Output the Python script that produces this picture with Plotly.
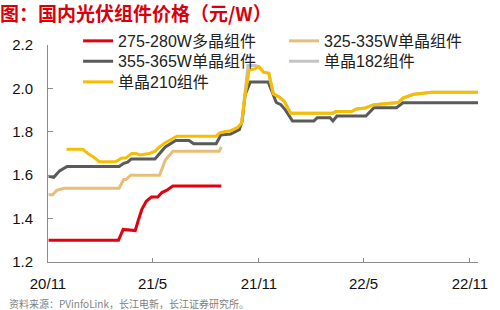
import plotly.graph_objects as go

# ---------------- data ----------------
red_dates = ["2020-11-02", "2021-03-03", "2021-03-11", "2021-04-01", "2021-04-06", "2021-04-12",
             "2021-04-20", "2021-04-29", "2021-05-10", "2021-05-17", "2021-05-25", "2021-06-05",
             "2021-08-28"]
red_vals = [1.30, 1.30, 1.35, 1.345, 1.39, 1.44, 1.48, 1.50, 1.50, 1.52, 1.53, 1.55, 1.55]

tan_dates = ["2020-11-02", "2020-11-09", "2020-11-16", "2020-11-29", "2021-03-04", "2021-03-12",
             "2021-03-16", "2021-03-24", "2021-05-13", "2021-05-23", "2021-06-05", "2021-08-24",
             "2021-08-28"]
tan_vals = [1.51, 1.51, 1.53, 1.54, 1.54, 1.58, 1.58, 1.60, 1.60, 1.67, 1.71, 1.71, 1.73]

g355_dates = ["2020-11-02", "2020-11-11", "2020-11-21", "2020-12-04", "2021-03-04", "2021-03-12",
              "2021-03-19", "2021-03-25", "2021-05-05", "2021-05-13", "2021-05-23", "2021-06-10",
              "2021-07-03", "2021-07-11", "2021-08-19", "2021-08-27", "2021-09-13", "2021-09-28",
              "2021-10-03", "2021-10-08", "2021-10-17", "2021-11-17", "2021-11-23", "2021-12-01",
              "2021-12-09", "2021-12-17", "2021-12-29", "2022-02-04", "2022-02-10", "2022-03-04",
              "2022-03-09", "2022-03-16", "2022-05-05", "2022-05-12", "2022-05-19", "2022-06-27",
              "2022-07-08", "2022-11-16"]
g355_vals = [1.595, 1.59, 1.62, 1.64, 1.64, 1.655, 1.66, 1.675, 1.675, 1.70, 1.73, 1.76,
             1.76, 1.745, 1.745, 1.785, 1.79, 1.81, 1.85, 1.97, 2.03, 2.03, 1.99, 1.935,
             1.925, 1.90, 1.85, 1.85, 1.865, 1.865, 1.85, 1.873, 1.873, 1.89, 1.911, 1.911,
             1.934, 1.934]

g182_dates = ["2021-10-02", "2021-10-07", "2021-10-13", "2021-10-26", "2021-11-01", "2021-11-09",
              "2021-11-18", "2021-11-26", "2021-12-06", "2021-12-15", "2021-12-26", "2022-03-09",
              "2022-03-14", "2022-04-10", "2022-04-19", "2022-05-04", "2022-05-19", "2022-06-30",
              "2022-07-08", "2022-07-27", "2022-08-27", "2022-11-16"]
g182_vals = [1.84, 1.96, 2.105, 2.105, 2.10, 2.075, 2.07, 1.975, 1.96, 1.94, 1.885, 1.885,
             1.893, 1.893, 1.905, 1.91, 1.925, 1.935, 1.955, 1.973, 1.982, 1.982]

y210_dates = ["2020-12-03", "2020-12-31", "2021-01-09", "2021-01-18", "2021-01-29", "2021-02-26",
              "2021-03-08", "2021-03-16", "2021-03-26", "2021-04-02", "2021-04-09", "2021-04-25",
              "2021-05-05", "2021-05-13", "2021-05-23", "2021-06-12", "2021-08-19", "2021-08-25",
              "2021-09-02", "2021-09-13", "2021-09-25", "2021-10-02", "2021-10-07", "2021-10-15",
              "2021-10-25", "2021-11-01", "2021-11-09", "2021-11-18", "2021-11-26", "2021-12-06",
              "2021-12-15", "2021-12-26", "2022-03-09", "2022-03-14", "2022-04-10", "2022-04-19",
              "2022-05-04", "2022-05-19", "2022-06-30", "2022-07-08", "2022-07-27", "2022-08-27",
              "2022-11-16"]
y210_vals = [1.72, 1.72, 1.70, 1.685, 1.662, 1.662, 1.678, 1.68, 1.70, 1.70, 1.693, 1.70,
             1.71, 1.73, 1.75, 1.78, 1.78, 1.795, 1.80, 1.805, 1.82, 1.84, 1.95, 2.085,
             2.09, 2.10, 2.075, 2.07, 1.975, 1.96, 1.94, 1.885, 1.885, 1.893, 1.893, 1.905,
             1.91, 1.925, 1.935, 1.955, 1.973, 1.982, 1.982]

series_names = ["275-280W多晶组件", "325-335W单晶组件", "355-365W单晶组件", "单晶182组件", "单晶210组件"]

x_tickvals = ["2020-11-01", "2021-05-01", "2021-11-01", "2022-05-01", "2022-11-01"]
x_ticktext = ["20/11", "21/5", "21/11", "22/5", "22/11"]
y_tickvals = [1.2, 1.4, 1.6, 1.8, 2.0, 2.2]
y_ticktext = ["1.2", "1.4", "1.6", "1.8", "2.0", "2.2"]

title_text = "图：国内光伏组件价格（元/W）"
source_text = "资料来源：PVinfoLink，长江电新，长江证券研究所。"

# ---------------- figure ----------------
FONT = "Liberation Sans, Arial, Noto Sans CJK SC, sans-serif"
RED = "#E3000F"
TAN = "#E6BE78"
DGRAY = "#5A5A5A"
LGRAY = "#C4C4C4"
YEL = "#F7BE00"
LW = 3

fig = go.Figure()
fig.add_trace(go.Scatter(x=tan_dates, y=tan_vals, name=series_names[1], mode="lines",
                         line=dict(color=TAN, width=LW), legend="legend2"))
fig.add_trace(go.Scatter(x=g355_dates, y=g355_vals, name=series_names[2], mode="lines",
                         line=dict(color=DGRAY, width=LW), legend="legend3"))
fig.add_trace(go.Scatter(x=red_dates, y=red_vals, name=series_names[0], mode="lines",
                         line=dict(color=RED, width=LW), legend="legend"))
fig.add_trace(go.Scatter(x=g182_dates, y=g182_vals, name=series_names[3], mode="lines",
                         line=dict(color=LGRAY, width=LW), legend="legend4"))
fig.add_trace(go.Scatter(x=y210_dates, y=y210_vals, name=series_names[4], mode="lines",
                         line=dict(color=YEL, width=LW), legend="legend5"))

lc = dict(font=dict(family=FONT, size=16, color="#222"), bgcolor="rgba(0,0,0,0)",
          borderwidth=0, orientation="v", xanchor="left", yanchor="top",
          tracegroupgap=0, itemwidth=30)

XL, XR = 0.070, 0.549
Y1, Y2, Y3 = 1.097, 1.003, 0.908

fig.update_layout(
    width=500, height=310,
    margin=dict(l=45, r=13, t=45, b=48),
    paper_bgcolor="white", plot_bgcolor="white",
    showlegend=True,
    legend=dict(x=XL, y=Y1, **lc),
    legend2=dict(x=XR, y=Y1, **lc),
    legend3=dict(x=XL, y=Y2, **lc),
    legend4=dict(x=XR, y=Y2, **lc),
    legend5=dict(x=XL, y=Y3, **lc),
    title=dict(text=title_text, x=0.0, xref="container", xanchor="left",
               y=0.955, yref="container", yanchor="middle",
               font=dict(family="Noto Sans CJK SC, sans-serif", size=19, color="#D9000C", weight="bold")),
    xaxis=dict(type="date", range=["2020-11-01", "2022-11-15"],
               tickvals=x_tickvals, ticktext=x_ticktext,
               showgrid=False, zeroline=False, showline=True, linecolor="#8C8C8C", linewidth=1,
               ticks="inside", ticklen=4, tickcolor="#8C8C8C", ticklabelstandoff=8,
               tickfont=dict(family=FONT, size=15, color="#111")),
    yaxis=dict(range=[1.2, 2.2], tickvals=y_tickvals, ticktext=y_ticktext,
               showgrid=False, zeroline=False, showline=True, linecolor="#8C8C8C", linewidth=1,
               ticks="inside", ticklen=5, tickcolor="#8C8C8C", ticklabelstandoff=11,
               tickfont=dict(family=FONT, size=15, color="#111")),
    annotations=[dict(text=source_text, xref="paper", yref="paper", x=-0.095, y=-0.19,
                      xanchor="left", yanchor="middle", showarrow=False,
                      font=dict(family="Noto Sans CJK SC, sans-serif", size=10, color="#7F7F7F"))],
)

fig.write_html("out.html")
